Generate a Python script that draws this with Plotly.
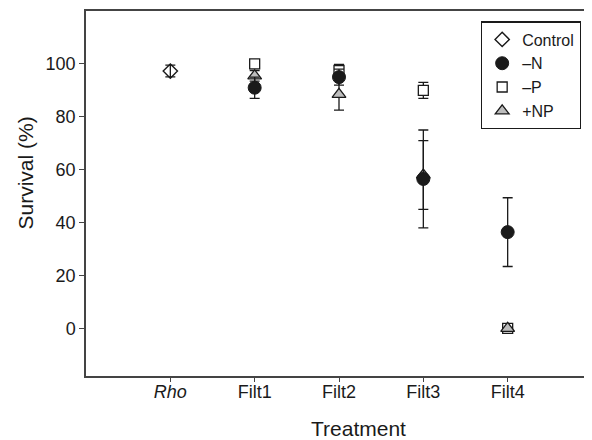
import plotly.graph_objects as go

categories = ["Rho", "Filt1", "Filt2", "Filt3", "Filt4"]
tick_labels = ["<i>Rho</i>", "Filt1", "Filt2", "Filt3", "Filt4"]

control_x = ["Rho"]
control_y = [97.3]
control_err = [2.2]

minusP_x = ["Filt1", "Filt2", "Filt3", "Filt4"]
minusP_y = [100.0, 97.5, 90.0, 0.0]
minusP_err = [0.0, 2.3, 3.0, 0.0]

plusNP_x = ["Filt1", "Filt2", "Filt3", "Filt4"]
plusNP_y = [95.5, 88.5, 58.0, 0.0]
plusNP_err = [2.0, 6.0, 13.0, 0.0]

minusN_x = ["Filt1", "Filt2", "Filt3", "Filt4"]
minusN_y = [91.0, 95.0, 56.5, 36.4]
minusN_err = [4.0, 3.0, 18.5, 13.0]

FONT = "Liberation Sans, Arial, Helvetica, sans-serif"
INK = "#1a1a1a"

def err(vals):
    return dict(type="data", array=vals, visible=True, color=INK, thickness=1.3, width=5)

fig = go.Figure()
fig.add_trace(go.Scatter(
    x=control_x, y=control_y, mode="markers", name="Control",
    error_y=err(control_err),
    marker=dict(symbol="diamond-open", size=11, color=INK, line=dict(width=1.4, color=INK)),
))
fig.add_trace(go.Scatter(
    x=minusP_x, y=minusP_y, mode="markers", name="\u2013P",
    error_y=err(minusP_err),
    marker=dict(symbol="square", size=10, color="white", line=dict(width=1.3, color=INK)),
))
fig.add_trace(go.Scatter(
    x=plusNP_x, y=plusNP_y, mode="markers", name="+NP",
    error_y=err(plusNP_err),
    marker=dict(symbol="triangle-up", size=12, color="#bdbdbd", line=dict(width=1.3, color=INK)),
))
fig.add_trace(go.Scatter(
    x=minusN_x, y=minusN_y, mode="markers", name="\u2013N",
    error_y=err(minusN_err),
    marker=dict(symbol="circle", size=13, color=INK, line=dict(width=1, color=INK)),
))

# page body has an 8px margin, so the figure is sized to fill the window from there
fig.update_layout(
    width=584, height=432,
    margin=dict(l=78, r=0, t=3, b=64),
    paper_bgcolor="white", plot_bgcolor="white",
    font=dict(family=FONT, size=18, color=INK),
    showlegend=True,
    legend=dict(
        x=0.978, y=0.972, xanchor="right", yanchor="top",
        bordercolor=INK, borderwidth=1.3, bgcolor="white",
        font=dict(size=16, color=INK), tracegroupgap=0,
        traceorder="normal", itemwidth=30,
    ),
    xaxis=dict(
        type="category", categoryorder="array", categoryarray=categories,
        tickmode="array", tickvals=categories, ticktext=tick_labels,
        range=[-1, 5], showgrid=False, zeroline=False,
        showline=True, linecolor="#444", linewidth=1.5, mirror=True,
        ticks="outside", ticklen=4, tickcolor="#444", tickwidth=1.2,
        tickfont=dict(size=18, color=INK), ticklabelstandoff=-5,
    ),
    yaxis=dict(
        range=[-18, 120], tickvals=[0, 20, 40, 60, 80, 100],
        showgrid=False, zeroline=False,
        showline=True, linecolor="#444", linewidth=1.5,
        ticks="outside", ticklen=5, tickcolor="#444", tickwidth=1.2,
        tickfont=dict(size=18, color=INK),
    ),
    annotations=[
        dict(text="Survival (%)", xref="paper", yref="paper", x=0, y=0.5,
             xanchor="center", yanchor="middle",
             xshift=-61, yshift=20, textangle=-90, showarrow=False,
             font=dict(size=21, color=INK)),
        dict(text="Treatment", xref="paper", yref="paper", x=0.5, y=0,
             xanchor="center", yanchor="middle",
             xshift=19, yshift=-52, showarrow=False,
             font=dict(size=21, color=INK)),
    ],
)

fig.data[0].legendrank = 1
fig.data[3].legendrank = 2
fig.data[1].legendrank = 3
fig.data[2].legendrank = 4

fig.write_html("out.html")
